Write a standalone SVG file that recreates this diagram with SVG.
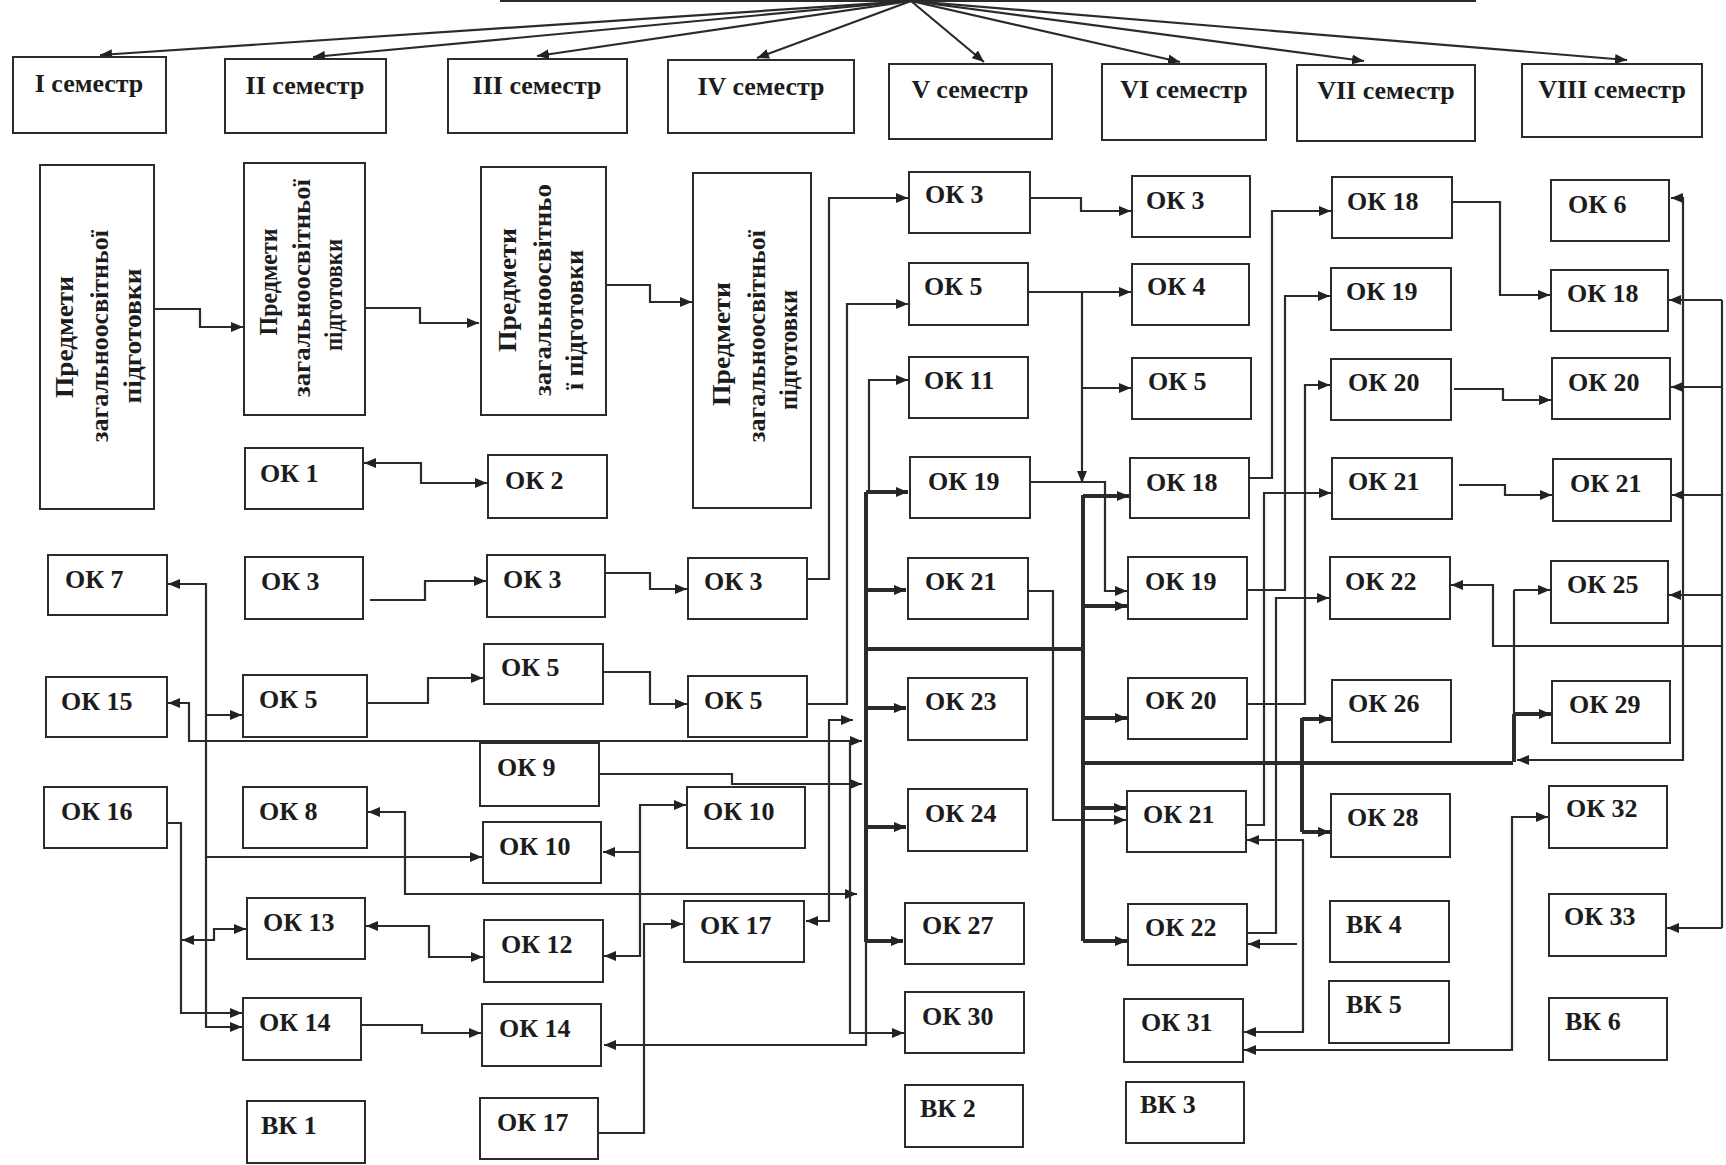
<svg xmlns="http://www.w3.org/2000/svg" width="1726" height="1165" viewBox="0 0 1726 1165">
<style>
.box{fill:#fff;stroke:#2b2b2b;stroke-width:2}
.lbl{font-family:"Liberation Serif","DejaVu Serif",serif;font-weight:bold;font-size:26px;fill:#1c1c1c}
.hd{text-anchor:middle}
.pv{text-anchor:middle}
.c{fill:none;stroke:#2b2b2b;stroke-width:2.2}
.t{stroke-width:4}
.m{marker-end:url(#ar)}
.s{marker-start:url(#ar)}
</style>
<defs>
<marker id="ar" markerUnits="userSpaceOnUse" markerWidth="12" markerHeight="10" refX="12" refY="5" orient="auto-start-reverse">
<path d="M0,0 L12,5 L0,10 z" fill="#222"/>
</marker>
</defs>
<rect width="1726" height="1165" fill="#fff"/>

<g id="connectors">
<!-- top fan -->
<path class="c" d="M500,1 H1476"/>
<path class="c m" d="M911,1 L100,55"/>
<path class="c m" d="M911,1 L313,57"/>
<path class="c m" d="M911,1 L537,56"/>
<path class="c m" d="M911,1 L757,58"/>
<path class="c m" d="M911,1 L984,62"/>
<path class="c m" d="M911,1 L1180,62"/>
<path class="c m" d="M911,1 L1364,61"/>
<path class="c m" d="M911,1 L1627,60"/>
<!-- Predmety links -->
<path class="c m" d="M153,309 H200 V327 H243"/>
<path class="c m" d="M365,308 H420 V323 H479"/>
<path class="c m" d="M606,285 H650 V302 H692"/>
<!-- OK1-OK2 -->
<path class="c s m" d="M364,463 H421 V483 H487"/>
<!-- II-III-IV-V -->
<path class="c m" d="M370,600 H425 V581 H486"/>
<path class="c m" d="M606,573 H650 V589 H687"/>
<path class="c m" d="M807,579 H829 V198 H908"/>
<path class="c m" d="M368,703 H428 V678 H483"/>
<path class="c m" d="M604,672 H650 V704 H687"/>
<path class="c m" d="M807,704 H847 V304 H908"/>
<!-- left verticals -->
<path class="c s m" d="M168,584 H206 V1027 H242"/>
<path class="c m" d="M206,715 H242"/>
<path class="c m" d="M206,857 H482"/>
<path class="c s m" d="M168,703 H189 V741 H862"/>
<path class="c m" d="M167,823 H181 V1013 H242"/>
<path class="c s m" d="M182,940 H214 V929 H246"/>
<path class="c s m" d="M368,812 H405 V894 H857"/>
<path class="c s m" d="M366,926 H429 V957 H483"/>
<path class="c s m" d="M604,956 H640 V805 H686"/>
<path class="c m" d="M640,852 H603"/>
<path class="c m" d="M362,1025 H422 V1033 H481"/>
<path class="c m" d="M599,1133 H644 V924 H683"/>
<path class="c m" d="M600,774 H732 V784 H862"/>
<path class="c s m" d="M853,720 H829 V921 H806"/>
<path class="c m" d="M850,741 V1033 H904"/>
<!-- V bus -->
<path class="c t" d="M866,492 V942"/>
<path class="c m" d="M866,942 V1045 H604"/>
<path class="c t m" d="M866,492 H908"/>
<path class="c t m" d="M866,590 H906"/>
<path class="c t m" d="M866,708 H906"/>
<path class="c t m" d="M866,827 H906"/>
<path class="c t m" d="M866,941 H903"/>
<path class="c m" d="M869,492 V380 H908"/>
<path class="c t" d="M866,649 H1083"/>
<!-- V to VI -->
<path class="c m" d="M1030,198 H1081 V211 H1131"/>
<path class="c m" d="M1028,292 H1082 V483"/>
<path class="c m" d="M1082,292 H1131"/>
<path class="c m" d="M1082,388 H1131"/>
<path class="c m" d="M1030,482 H1105 V591 H1127"/>
<path class="c m" d="M1028,591 H1053 V820 H1126"/>
<!-- VI bus -->
<path class="c t" d="M1083,495 V941"/>
<path class="c t m" d="M1083,496 H1129"/>
<path class="c t m" d="M1083,606 H1127"/>
<path class="c t m" d="M1083,718 H1127"/>
<path class="c t m" d="M1083,808 H1126"/>
<path class="c t m" d="M1083,941 H1127"/>
<path class="c t" d="M1083,763 H1513"/>
<!-- VI to VII -->
<path class="c m" d="M1249,478 H1272 V211 H1331"/>
<path class="c m" d="M1247,590 H1285 V296 H1330"/>
<path class="c m" d="M1247,704 H1305 V385 H1330"/>
<path class="c m" d="M1246,825 H1264 V493 H1331"/>
<path class="c m" d="M1247,933 H1276 V598 H1329"/>
<!-- VII bus -->
<path class="c t" d="M1302,718 V832"/>
<path class="c t m" d="M1302,719 H1331"/>
<path class="c t m" d="M1302,832 H1330"/>
<path class="c s m" d="M1247,840 H1303 V1032 H1244"/>
<path class="c m" d="M1297,944 H1248"/>
<path class="c s m" d="M1244,1050 H1512 V817 H1548"/>
<!-- VIII bus -->
<path class="c" d="M1514,590 V714"/>
<path class="c t" d="M1514,714 V762"/>
<path class="c m" d="M1514,590 H1550"/>
<path class="c t m" d="M1514,714 H1551"/>
<path class="c s m" d="M1671,198 H1683 V760 H1517"/>
<!-- VII to VIII -->
<path class="c m" d="M1447,202 H1500 V295 H1550"/>
<path class="c m" d="M1454,389 H1503 V400 H1551"/>
<path class="c m" d="M1459,485 H1505 V495 H1552"/>
<!-- right edge -->
<path class="c" d="M1722,300 V928"/>
<path class="c m" d="M1722,300 H1669"/>
<path class="c m" d="M1722,387 H1671"/>
<path class="c m" d="M1722,495 H1672"/>
<path class="c m" d="M1722,595 H1669"/>
<path class="c m" d="M1722,928 H1667"/>
<path class="c m" d="M1722,646 H1493 V585 H1451"/>
</g>

<!-- headers -->
<g id="h1"><rect class="box" x="13" y="57" width="153" height="76"/><text class="lbl hd" x="89" y="92">I семестр</text></g>
<g id="h2"><rect class="box" x="225" y="59" width="161" height="74"/><text class="lbl hd" x="305" y="94">II семестр</text></g>
<g id="h3"><rect class="box" x="448" y="59" width="179" height="74"/><text class="lbl hd" x="537" y="94">III семестр</text></g>
<g id="h4"><rect class="box" x="668" y="60" width="186" height="73"/><text class="lbl hd" x="761" y="95">IV семестр</text></g>
<g id="h5"><rect class="box" x="889" y="64" width="163" height="75"/><text class="lbl hd" x="970" y="98">V семестр</text></g>
<g id="h6"><rect class="box" x="1102" y="64" width="164" height="76"/><text class="lbl hd" x="1184" y="98">VI семестр</text></g>
<g id="h7"><rect class="box" x="1297" y="65" width="178" height="76"/><text class="lbl hd" x="1386" y="99">VII семестр</text></g>
<g id="h8"><rect class="box" x="1522" y="64" width="180" height="73"/><text class="lbl hd" x="1612" y="98">VIII семестр</text></g>

<!-- Predmety boxes -->
<g id="p1"><rect class="box" x="40" y="165" width="114" height="344"/>
<text class="lbl pv" font-size="27" transform="translate(73,337) rotate(-90)" textLength="122" lengthAdjust="spacingAndGlyphs">Предмети</text>
<text class="lbl pv" font-size="23" transform="translate(108,336) rotate(-90)" textLength="212" lengthAdjust="spacingAndGlyphs">загальноосвітньої</text>
<text class="lbl pv" font-size="23" transform="translate(141,336) rotate(-90)" textLength="135" lengthAdjust="spacingAndGlyphs">підготовки</text></g>
<g id="p2"><rect class="box" x="244" y="163" width="121" height="252"/>
<text class="lbl pv" font-size="25" transform="translate(277,282) rotate(-90)" textLength="107" lengthAdjust="spacingAndGlyphs">Предмети</text>
<text class="lbl pv" font-size="22" transform="translate(310,288) rotate(-90)" textLength="218" lengthAdjust="spacingAndGlyphs">загальноосвітньої</text>
<text class="lbl pv" font-size="22" transform="translate(342,295) rotate(-90)" textLength="112" lengthAdjust="spacingAndGlyphs">підготовки</text></g>
<g id="p3"><rect class="box" x="481" y="167" width="125" height="248"/>
<text class="lbl pv" font-size="26" transform="translate(516,290) rotate(-90)" textLength="124" lengthAdjust="spacingAndGlyphs">Предмети</text>
<text class="lbl pv" font-size="22" transform="translate(551,290) rotate(-90)" textLength="212" lengthAdjust="spacingAndGlyphs">загальноосвітньо</text>
<text class="lbl pv" font-size="22" transform="translate(583,320) rotate(-90)" textLength="140" lengthAdjust="spacingAndGlyphs">ї підготовки</text></g>
<g id="p4"><rect class="box" x="693" y="173" width="118" height="335"/>
<text class="lbl pv" font-size="27" transform="translate(730,344) rotate(-90)" textLength="124" lengthAdjust="spacingAndGlyphs">Предмети</text>
<text class="lbl pv" font-size="23" transform="translate(765,336) rotate(-90)" textLength="212" lengthAdjust="spacingAndGlyphs">загальноосвітньої</text>
<text class="lbl pv" font-size="23" transform="translate(797,350) rotate(-90)" textLength="120" lengthAdjust="spacingAndGlyphs">підготовки</text></g>

<!-- column I -->
<g id="ok7"><rect class="box" x="48" y="555" width="119" height="60"/><text class="lbl" x="65" y="588">ОК 7</text></g>
<g id="ok15"><rect class="box" x="46" y="677" width="121" height="60"/><text class="lbl" x="61" y="710">ОК 15</text></g>
<g id="ok16"><rect class="box" x="44" y="787" width="123" height="61"/><text class="lbl" x="61" y="820">ОК 16</text></g>
<!-- column II -->
<g id="ok1"><rect class="box" x="245" y="448" width="118" height="61"/><text class="lbl" x="260" y="482">ОК 1</text></g>
<g id="ok3-2"><rect class="box" x="245" y="557" width="118" height="62"/><text class="lbl" x="261" y="590">ОК 3</text></g>
<g id="ok5-2"><rect class="box" x="243" y="675" width="124" height="62"/><text class="lbl" x="259" y="708">ОК 5</text></g>
<g id="ok8"><rect class="box" x="243" y="787" width="124" height="61"/><text class="lbl" x="259" y="820">ОК 8</text></g>
<g id="ok13"><rect class="box" x="247" y="898" width="118" height="61"/><text class="lbl" x="263" y="931">ОК 13</text></g>
<g id="ok14-2"><rect class="box" x="243" y="998" width="118" height="62"/><text class="lbl" x="259" y="1031">ОК 14</text></g>
<g id="vk1"><rect class="box" x="247" y="1101" width="118" height="62"/><text class="lbl" x="261" y="1134">ВК 1</text></g>
<!-- column III -->
<g id="ok2"><rect class="box" x="488" y="455" width="119" height="63"/><text class="lbl" x="505" y="489">ОК 2</text></g>
<g id="ok3-3"><rect class="box" x="487" y="555" width="118" height="62"/><text class="lbl" x="503" y="588">ОК 3</text></g>
<g id="ok5-3"><rect class="box" x="484" y="644" width="119" height="60"/><text class="lbl" x="501" y="676">ОК 5</text></g>
<g id="ok9"><rect class="box" x="480" y="743" width="119" height="63"/><text class="lbl" x="497" y="776">ОК 9</text></g>
<g id="ok10-3"><rect class="box" x="483" y="822" width="118" height="61"/><text class="lbl" x="499" y="855">ОК 10</text></g>
<g id="ok12"><rect class="box" x="484" y="920" width="119" height="62"/><text class="lbl" x="501" y="953">ОК 12</text></g>
<g id="ok14-3"><rect class="box" x="482" y="1004" width="119" height="62"/><text class="lbl" x="499" y="1037">ОК 14</text></g>
<g id="ok17-3"><rect class="box" x="480" y="1098" width="118" height="61"/><text class="lbl" x="497" y="1131">ОК 17</text></g>
<!-- column IV -->
<g id="ok3-4"><rect class="box" x="688" y="558" width="119" height="61"/><text class="lbl" x="704" y="590">ОК 3</text></g>
<g id="ok5-4"><rect class="box" x="688" y="676" width="119" height="61"/><text class="lbl" x="704" y="709">ОК 5</text></g>
<g id="ok10-4"><rect class="box" x="687" y="787" width="118" height="61"/><text class="lbl" x="703" y="820">ОК 10</text></g>
<g id="ok17-4"><rect class="box" x="684" y="901" width="120" height="61"/><text class="lbl" x="700" y="934">ОК 17</text></g>
<!-- column V -->
<g id="ok3-5"><rect class="box" x="909" y="172" width="121" height="61"/><text class="lbl" x="925" y="203">ОК 3</text></g>
<g id="ok5-5"><rect class="box" x="909" y="263" width="119" height="62"/><text class="lbl" x="924" y="295">ОК 5</text></g>
<g id="ok11"><rect class="box" x="909" y="357" width="119" height="61"/><text class="lbl" x="924" y="389">ОК 11</text></g>
<g id="ok19-5"><rect class="box" x="910" y="457" width="120" height="61"/><text class="lbl" x="928" y="490">ОК 19</text></g>
<g id="ok21-5"><rect class="box" x="908" y="558" width="120" height="61"/><text class="lbl" x="925" y="590">ОК 21</text></g>
<g id="ok23"><rect class="box" x="908" y="678" width="119" height="62"/><text class="lbl" x="925" y="710">ОК 23</text></g>
<g id="ok24"><rect class="box" x="908" y="789" width="119" height="62"/><text class="lbl" x="925" y="822">ОК 24</text></g>
<g id="ok27"><rect class="box" x="905" y="903" width="119" height="61"/><text class="lbl" x="922" y="934">ОК 27</text></g>
<g id="ok30"><rect class="box" x="905" y="992" width="119" height="61"/><text class="lbl" x="922" y="1025">ОК 30</text></g>
<g id="vk2"><rect class="box" x="905" y="1085" width="118" height="62"/><text class="lbl" x="920" y="1117">ВК 2</text></g>
<!-- column VI -->
<g id="ok3-6"><rect class="box" x="1132" y="176" width="118" height="61"/><text class="lbl" x="1146" y="209">ОК 3</text></g>
<g id="ok4"><rect class="box" x="1132" y="264" width="117" height="61"/><text class="lbl" x="1147" y="295">ОК 4</text></g>
<g id="ok5-6"><rect class="box" x="1132" y="358" width="119" height="61"/><text class="lbl" x="1148" y="390">ОК 5</text></g>
<g id="ok18-6"><rect class="box" x="1130" y="458" width="119" height="60"/><text class="lbl" x="1146" y="491">ОК 18</text></g>
<g id="ok19-6"><rect class="box" x="1128" y="557" width="119" height="62"/><text class="lbl" x="1145" y="590">ОК 19</text></g>
<g id="ok20-6"><rect class="box" x="1128" y="678" width="119" height="61"/><text class="lbl" x="1145" y="709">ОК 20</text></g>
<g id="ok21-6"><rect class="box" x="1127" y="791" width="119" height="61"/><text class="lbl" x="1143" y="823">ОК 21</text></g>
<g id="ok22-6"><rect class="box" x="1128" y="904" width="119" height="61"/><text class="lbl" x="1145" y="936">ОК 22</text></g>
<g id="ok31"><rect class="box" x="1124" y="999" width="119" height="63"/><text class="lbl" x="1141" y="1031">ОК 31</text></g>
<g id="vk3"><rect class="box" x="1126" y="1082" width="118" height="61"/><text class="lbl" x="1140" y="1113">ВК 3</text></g>
<!-- column VII -->
<g id="ok18-7"><rect class="box" x="1332" y="177" width="120" height="61"/><text class="lbl" x="1347" y="210">ОК 18</text></g>
<g id="ok19-7"><rect class="box" x="1331" y="268" width="120" height="62"/><text class="lbl" x="1346" y="300">ОК 19</text></g>
<g id="ok20-7"><rect class="box" x="1331" y="359" width="120" height="61"/><text class="lbl" x="1348" y="391">ОК 20</text></g>
<g id="ok21-7"><rect class="box" x="1332" y="458" width="120" height="61"/><text class="lbl" x="1348" y="490">ОК 21</text></g>
<g id="ok22-7"><rect class="box" x="1330" y="557" width="120" height="62"/><text class="lbl" x="1345" y="590">ОК 22</text></g>
<g id="ok26"><rect class="box" x="1332" y="680" width="119" height="62"/><text class="lbl" x="1348" y="712">ОК 26</text></g>
<g id="ok28"><rect class="box" x="1331" y="794" width="119" height="63"/><text class="lbl" x="1347" y="826">ОК 28</text></g>
<g id="vk4"><rect class="box" x="1330" y="901" width="119" height="61"/><text class="lbl" x="1346" y="933">ВК 4</text></g>
<g id="vk5"><rect class="box" x="1329" y="981" width="120" height="62"/><text class="lbl" x="1346" y="1013">ВК 5</text></g>
<!-- column VIII -->
<g id="ok6"><rect class="box" x="1551" y="180" width="118" height="61"/><text class="lbl" x="1568" y="213">ОК 6</text></g>
<g id="ok18-8"><rect class="box" x="1551" y="270" width="117" height="61"/><text class="lbl" x="1567" y="302">ОК 18</text></g>
<g id="ok20-8"><rect class="box" x="1552" y="358" width="118" height="61"/><text class="lbl" x="1568" y="391">ОК 20</text></g>
<g id="ok21-8"><rect class="box" x="1553" y="459" width="118" height="62"/><text class="lbl" x="1570" y="492">ОК 21</text></g>
<g id="ok25"><rect class="box" x="1551" y="561" width="117" height="62"/><text class="lbl" x="1567" y="593">ОК 25</text></g>
<g id="ok29"><rect class="box" x="1552" y="681" width="118" height="62"/><text class="lbl" x="1569" y="713">ОК 29</text></g>
<g id="ok32"><rect class="box" x="1549" y="786" width="118" height="62"/><text class="lbl" x="1566" y="817">ОК 32</text></g>
<g id="ok33"><rect class="box" x="1549" y="894" width="117" height="62"/><text class="lbl" x="1564" y="925">ОК 33</text></g>
<g id="vk6"><rect class="box" x="1549" y="998" width="118" height="62"/><text class="lbl" x="1565" y="1030">ВК 6</text></g>
</svg>
